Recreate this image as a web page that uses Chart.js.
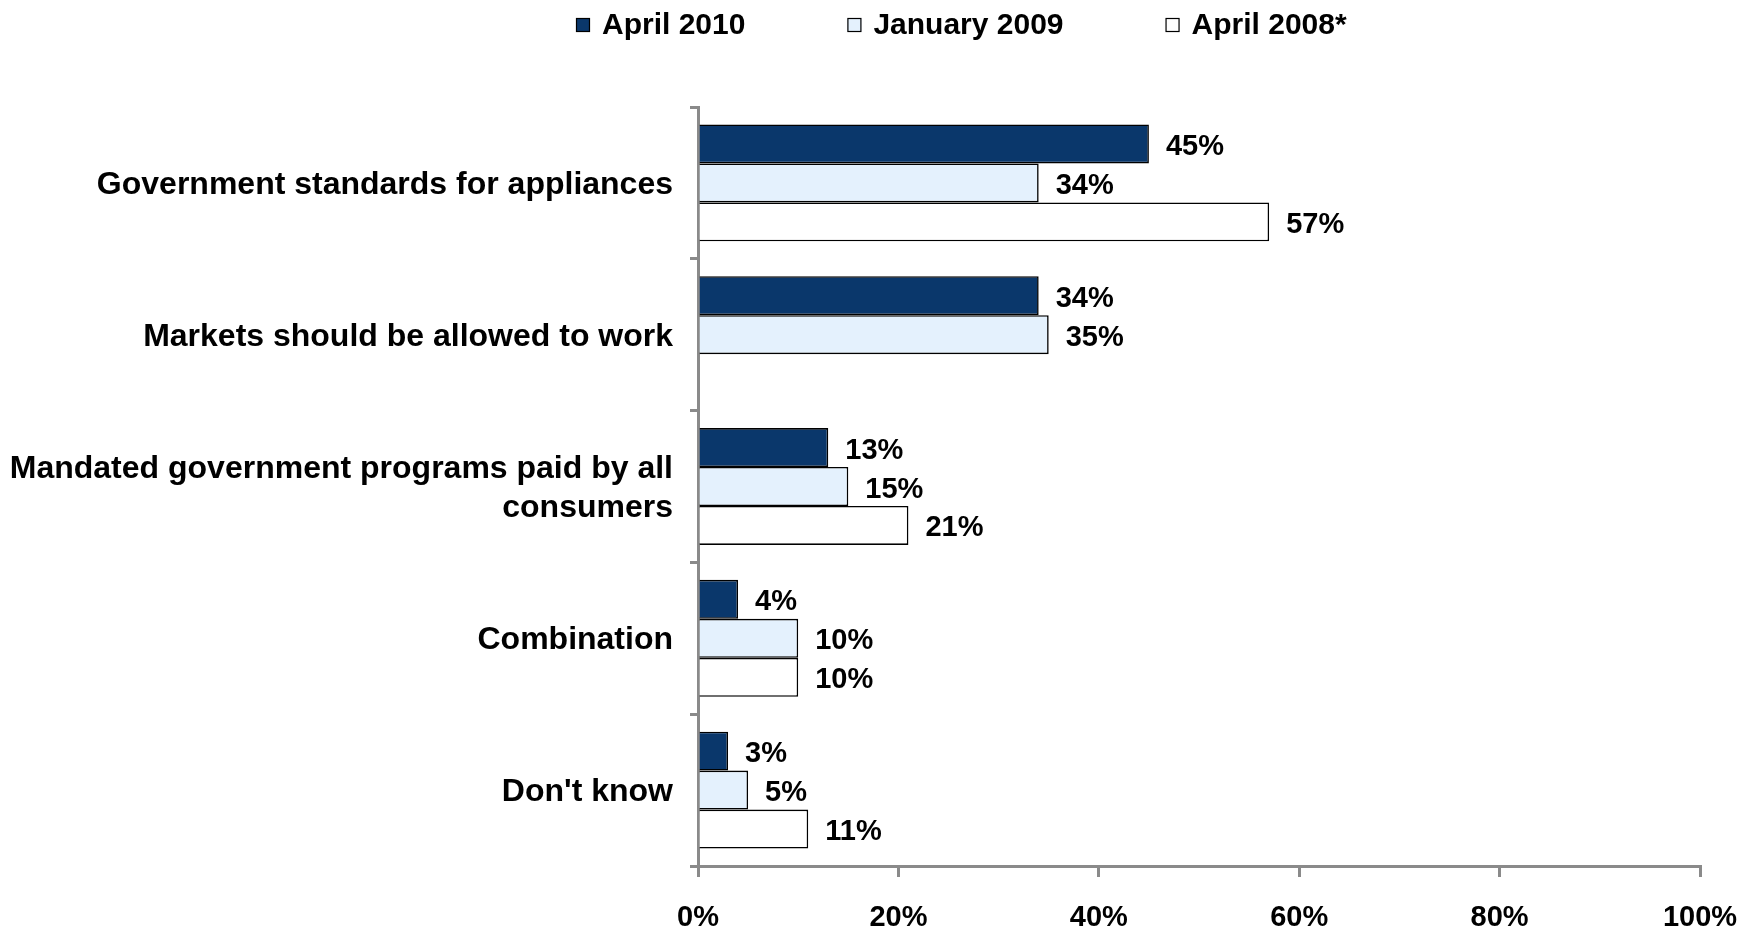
<!DOCTYPE html>
<html>
<head>
<meta charset="utf-8">
<title>Preferred approach to energy efficiency</title>
<script src="https://cdn.jsdelivr.net/npm/chart.js@4.4.1/dist/chart.umd.min.js"></script>
<style>
  html, body { margin: 0; padding: 0; background: #ffffff; }
  #wrap { width: 1752px; height: 928px; }
</style>
</head>
<body>
<div id="wrap"><canvas id="chart" width="1752" height="928"></canvas></div>
<script>
// Survey answers (percent of respondents)
const categories = [
  'Government standards for appliances',
  'Markets should be allowed to work',
  ['Mandated government programs paid by all', 'consumers'],
  'Combination',
  "Don't know"
];
const seriesNames = ['April 2010', 'January 2009', 'April 2008*'];
const april2010 = [45, 34, 13, 4, 3];
const january2009 = [34, 35, 15, 10, 5];
const april2008 = [57, null, 21, 10, 11];
const xTickValues = [0, 20, 40, 60, 80, 100];

const seriesColors = ['#0a376b', '#e4f1fd', '#ffffff'];
const FONT = '"Liberation Sans", Arial, sans-serif';
const AXIS_GRAY = '#8a8a8a';

// Value labels to the right of each bar
const valueLabels = {
  id: 'valueLabels',
  afterDatasetsDraw(chart) {
    const ctx = chart.ctx;
    ctx.save();
    ctx.font = 'bold 29px ' + FONT;
    ctx.fillStyle = '#000';
    ctx.textAlign = 'left';
    ctx.textBaseline = 'middle';
    chart.data.datasets.forEach((ds, i) => {
      const meta = chart.getDatasetMeta(i);
      meta.data.forEach((bar, j) => {
        const v = ds.data[j];
        if (v === null || v === undefined) return;
        ctx.fillText(v + '%', bar.x + 17, bar.y + 3);
      });
    });
    ctx.restore();
  }
};

// Legend row across the top
const topLegend = {
  id: 'topLegend',
  afterDraw(chart) {
    const ctx = chart.ctx;
    ctx.save();
    ctx.font = 'bold 30px ' + FONT;
    ctx.textBaseline = 'middle';
    ctx.textAlign = 'left';
    const box = 14, gapText = 12, gapItem = 102, cy = 25;
    let x = 576;
    chart.data.datasets.forEach(ds => {
      ctx.fillStyle = ds.backgroundColor;
      ctx.fillRect(x, cy - box / 2, box, box);
      ctx.strokeStyle = '#000';
      ctx.lineWidth = 1.2;
      ctx.strokeRect(x + 0.5, cy - box / 2 + 0.5, box - 1, box - 1);
      ctx.fillStyle = '#000';
      const tx = x + box + gapText;
      ctx.fillText(ds.label, tx, cy + 1);
      x = tx + ctx.measureText(ds.label).width + gapItem;
    });
    ctx.restore();
  }
};

const seriesData = [april2010, january2009, april2008];

new Chart(document.getElementById('chart'), {
  type: 'bar',
  data: {
    labels: categories,
    datasets: seriesNames.map((name, i) => ({
      label: name,
      data: seriesData[i],
      backgroundColor: seriesColors[i],
      borderColor: '#000000',
      borderWidth: 1.6,
      categoryPercentage: 0.77,
      barPercentage: 1.0
    }))
  },
  options: {
    indexAxis: 'y',
    responsive: false,
    animation: false,
    devicePixelRatio: 1,
    layout: { padding: { top: 107, right: 0, bottom: 0, left: 0 } },
    plugins: {
      legend: { display: false },
      tooltip: { enabled: false }
    },
    scales: {
      x: {
        min: 0,
        max: 100,
        afterBuildTicks(scale) {
          scale.ticks = xTickValues.map(v => ({ value: v }));
        },
        afterFit(scale) {
          scale.height = 62;
          scale.paddingRight = 52;
        },
        border: { display: true, color: AXIS_GRAY, width: 3 },
        grid: {
          drawOnChartArea: false,
          drawTicks: true,
          tickLength: 11,
          color: AXIS_GRAY,
          lineWidth: 3
        },
        ticks: {
          padding: 24,
          color: '#000',
          font: { family: FONT, size: 29, weight: 'bold' },
          callback: v => v + '%',
          maxRotation: 0
        }
      },
      y: {
        offset: true,
        afterFit(scale) { scale.width = 698; },
        border: { display: true, color: AXIS_GRAY, width: 3 },
        grid: {
          offset: true,
          drawOnChartArea: false,
          drawTicks: true,
          tickLength: 8,
          color: AXIS_GRAY,
          lineWidth: 3
        },
        ticks: {
          padding: 17,
          labelOffset: 2,
          color: '#000',
          font: { family: FONT, size: 32, weight: 'bold', lineHeight: 1.2 }
        }
      }
    }
  },
  plugins: [valueLabels, topLegend]
});
</script>
</body>
</html>
